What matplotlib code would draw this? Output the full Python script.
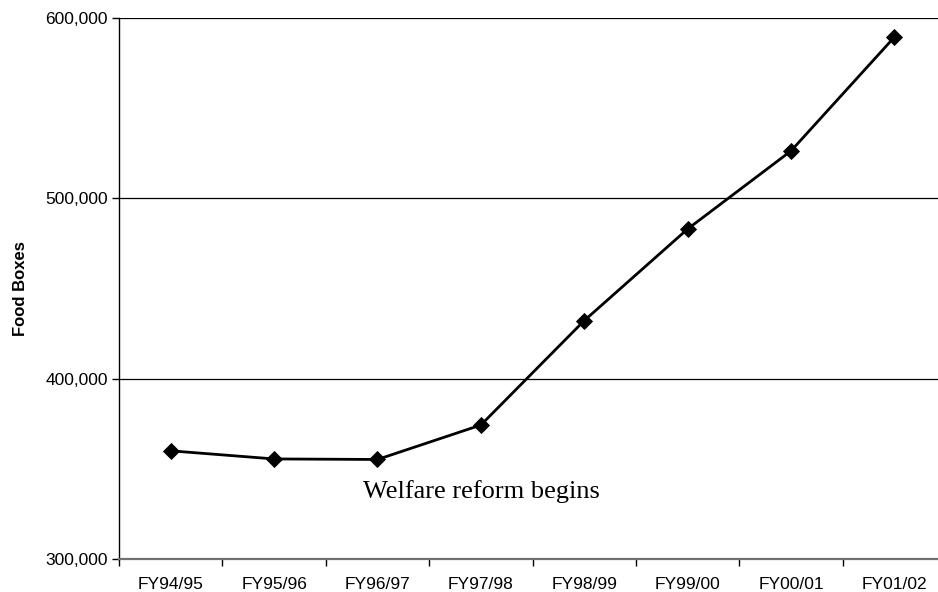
import matplotlib
matplotlib.use("Agg")
import matplotlib.pyplot as plt
from matplotlib.ticker import FuncFormatter, FixedLocator

# Food boxes distributed per fiscal year
years = ["FY94/95", "FY95/96", "FY96/97", "FY97/98",
         "FY98/99", "FY99/00", "FY00/01", "FY01/02"]
food_boxes = [360000, 355500, 355200, 374300, 432200, 483000, 526300, 589400]
y_ticks = [300000, 400000, 500000, 600000]
note_text = "Welfare reform begins"

fig = plt.figure(figsize=(9.38, 5.92), dpi=100)
ax = fig.add_axes([0.1269, 0.0557, 0.8817, 0.9139])

x = list(range(len(years)))
ax.plot(x, food_boxes, color="black", linewidth=2.0, marker="D",
        markersize=8.5, markerfacecolor="black", markeredgecolor="black",
        markeredgewidth=0.6, zorder=3, clip_on=False)

ax.set_xlim(-0.5, len(years) - 0.5)
ax.set_ylim(300000, 600000)

# category ticks sit between categories, labels centred on each category
ax.set_xticks(x)
ax.set_xticklabels(years, fontsize=12.5, family="Liberation Sans")
ax.tick_params(axis="x", which="major", length=0, pad=13)
ax.xaxis.set_minor_locator(FixedLocator([i - 0.5 for i in range(len(years) + 1)]))
ax.tick_params(axis="x", which="minor", length=5, width=1, color="black",
               direction="out")

ax.set_yticks(y_ticks)
ax.yaxis.set_major_formatter(FuncFormatter(lambda v, p: f"{int(v):,}"))
ax.tick_params(axis="y", length=5, width=1, color="black", direction="out",
               pad=3)
for lbl in ax.get_yticklabels():
    lbl.set_fontsize(12.5)
    lbl.set_family("Liberation Sans")

ax.grid(axis="y", color="black", linewidth=0.9)
ax.set_axisbelow(True)

for side in ("top", "right"):
    ax.spines[side].set_visible(False)
ax.spines["left"].set_color("black")
ax.spines["left"].set_linewidth(1.0)
ax.spines["bottom"].set_color("#707070")
ax.spines["bottom"].set_linewidth(1.6)

ax.set_ylabel("Food Boxes", fontsize=12, fontweight="bold",
              family="Liberation Sans")
ax.yaxis.set_label_coords(-0.110, 0.5)

ax.text(1.86, 333800, note_text, fontsize=19, family="Liberation Serif",
        ha="left", va="baseline", color="black")

fig.savefig("out.png", dpi=100)
